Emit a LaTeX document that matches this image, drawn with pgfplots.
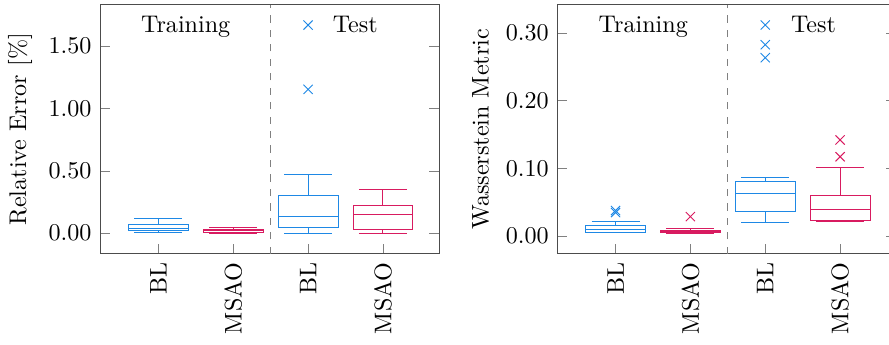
\documentclass[border=0pt]{standalone}
\usepackage{pgfplots}
\pgfplotsset{compat=1.18}
\usepgfplotslibrary{statistics}
\definecolor{cblue}{RGB}{30,136,229}
\definecolor{cpink}{RGB}{216,27,96}
\pgfplotsset{
  myaxis/.style={
    scale only axis, width=140.7pt, height=103.4pt,
    xmin=0.22, xmax=4.75,
    xtick={1,2,3,4}, xticklabels={BL,MSAO,BL,MSAO},
    xtick pos=bottom, ytick pos=both,
    x tick label style={rotate=90, anchor=east},
    tick align=inside,
    major tick style={gray},
    axis line style={black!70},
    yticklabel style={/pgf/number format/fixed, /pgf/number format/fixed zerofill, /pgf/number format/precision=2},
    boxplot/draw direction=y,
  },
  blbox/.style={color=cblue, solid, mark=x, mark size=2.7pt, fill=none,
    mark options={draw=cblue, fill=none, solid},
    boxplot/every box/.style={draw=cblue},
    boxplot/every median/.style={draw=cblue},
    boxplot/every whisker/.style={draw=cblue}},
  msbox/.style={color=cpink, solid, mark=x, mark size=2.7pt, fill=none,
    mark options={draw=cpink, fill=none, solid},
    boxplot/every box/.style={draw=cpink},
    boxplot/every median/.style={draw=cpink},
    boxplot/every whisker/.style={draw=cpink}},
}
\begin{document}
\begin{tikzpicture}
\begin{axis}[myaxis, name=ax1,
  ymin=-0.166, ymax=1.83,
  ytick={0,0.5,1,1.5},
  ylabel={Relative Error [\%]},
]
\addplot+[blbox, boxplot prepared={lower whisker=0.005, lower quartile=0.018, median=0.037, upper quartile=0.072, upper whisker=0.114, draw position=1}] coordinates {};
\addplot+[msbox, boxplot prepared={lower whisker=0.0, lower quartile=0.005, median=0.02, upper quartile=0.03, upper whisker=0.045, draw position=2}] coordinates {};
\addplot+[blbox, boxplot prepared={lower whisker=0.0, lower quartile=0.042, median=0.136, upper quartile=0.30, upper whisker=0.472, draw position=3}] table[row sep=\\, y index=0] {data\\ 1.152\\ 1.667\\};
\addplot+[msbox, boxplot prepared={lower whisker=0.0, lower quartile=0.029, median=0.149, upper quartile=0.221, upper whisker=0.352, draw position=4}] coordinates {};
\draw[gray, dashed] (axis cs:2.5,-0.166) -- (axis cs:2.5,1.83);
\node[anchor=base] at (axis cs:1.365,1.608) {Training};
\node[anchor=base] at (axis cs:3.63,1.608) {Test};
\end{axis}
\begin{axis}[myaxis, name=ax2, at={(ax1.south east)}, anchor=south west, xshift=49pt,
  ymin=-0.0266, ymax=0.3417,
  ytick={0,0.1,0.2,0.3},
  ylabel={Wasserstein Metric},
]
\addplot+[blbox, boxplot prepared={lower whisker=0.0044, lower quartile=0.0055, median=0.0089, upper quartile=0.0158, upper whisker=0.0217, draw position=1}] table[row sep=\\, y index=0] {data\\ 0.0345\\ 0.0374\\};
\addplot+[msbox, boxplot prepared={lower whisker=0.004, lower quartile=0.0044, median=0.006, upper quartile=0.0074, upper whisker=0.0108, draw position=2}] table[row sep=\\, y index=0] {data\\ 0.0285\\};
\addplot+[blbox, boxplot prepared={lower whisker=0.020, lower quartile=0.036, median=0.063, upper quartile=0.080, upper whisker=0.0857, draw position=3}] table[row sep=\\, y index=0] {data\\ 0.2634\\ 0.2826\\ 0.3117\\};
\addplot+[msbox, boxplot prepared={lower whisker=0.0207, lower quartile=0.0226, median=0.0394, upper quartile=0.0596, upper whisker=0.1009, draw position=4}] table[row sep=\\, y index=0] {data\\ 0.117\\ 0.1418\\};
\draw[gray, dashed] (axis cs:2.5,-0.0266) -- (axis cs:2.5,0.3417);
\node[anchor=base] at (axis cs:1.37,0.301) {Training};
\node[anchor=base] at (axis cs:3.645,0.301) {Test};
\end{axis}
\pgfresetboundingbox
\useasboundingbox ([xshift=-41.5pt,yshift=-37.8pt]ax1.south west) rectangle ([xshift=327.4pt,yshift=105.35pt]ax1.south west);
\end{tikzpicture}
\end{document}
